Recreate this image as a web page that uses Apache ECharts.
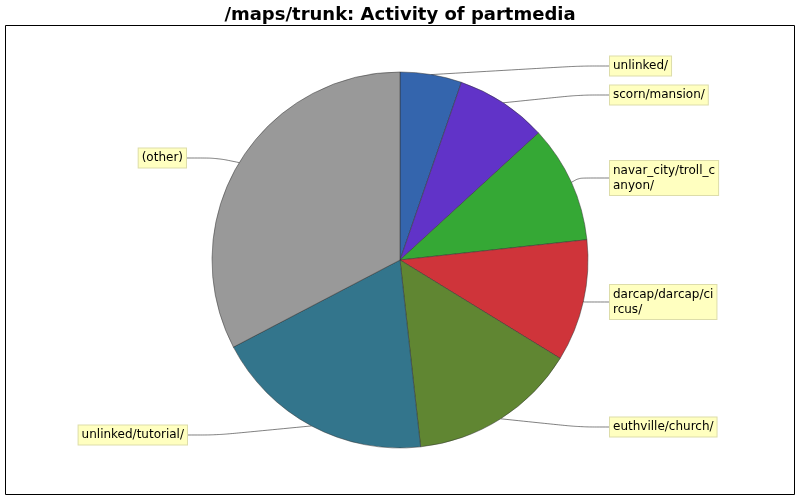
<!DOCTYPE html>
<html><head><meta charset="utf-8">
<script src="https://cdn.jsdelivr.net/npm/echarts@6/dist/echarts.min.js"></script>
<style>html,body{margin:0;background:#fff}#main{width:800px;height:500px}</style>
</head><body><div id="main"></div>
<script>
var names = ['unlinked/', 'scorn/mansion/', 'navar_city/troll_c\nanyon/', 'darcap/darcap/ci\nrcus/', 'euthville/church/', 'unlinked/tutorial/', '(other)'];
var values = [5.3, 7.9, 10.1, 10.5, 14.5, 19.1, 32.7];
var colors = ['#3465ad', '#6133c8', '#35a835', '#cf343a', '#608632', '#33758c', '#999999'];
// label anchor placement (x, y of label centre line)
var labelX = [610, 610, 610, 610, 610, 187, 186];
var labelY = [66, 95, 178, 302, 427, 435, 158];

var chart = echarts.init(document.getElementById('main'));
var data = names.map(function (n, i) {
    return { name: n, value: values[i], itemStyle: { color: colors[i] } };
});
chart.setOption({
    animation: false,
    title: {
        text: '/maps/trunk: Activity of partmedia',
        left: 'center', top: 1,
        textStyle: { fontSize: 18, fontWeight: 'bold', color: '#000', fontFamily: 'DejaVu Sans' }
    },
    graphic: [{
        type: 'rect', shape: { x: 5.5, y: 25.5, width: 789, height: 469 },
        style: { fill: 'none', stroke: '#000', lineWidth: 1 }
    }],
    series: [{
        type: 'pie',
        center: [400, 260],
        radius: 188,
        startAngle: 90,
        clockwise: true,
        data: data,
        itemStyle: { borderColor: '#333', borderWidth: 0.5 },
        label: {
            fontFamily: 'DejaVu Sans', fontSize: 12, color: '#000',
            backgroundColor: '#ffffc0', borderColor: '#ddddaa', borderWidth: 1,
            padding: [2, 3], align: 'center', lineHeight: 15
        },
        labelLine: { lineStyle: { color: '#000', width: 0.5 }, length: 30, length2: 30, smooth: 0.3 },
        labelLayout: function (p) {
            var i = p.dataIndex;
            var left = labelX[i] < 400;
            return { x: labelX[i], y: labelY[i], align: left ? 'right' : 'left', verticalAlign: 'middle' };
        }
    }]
});
</script></body></html>
